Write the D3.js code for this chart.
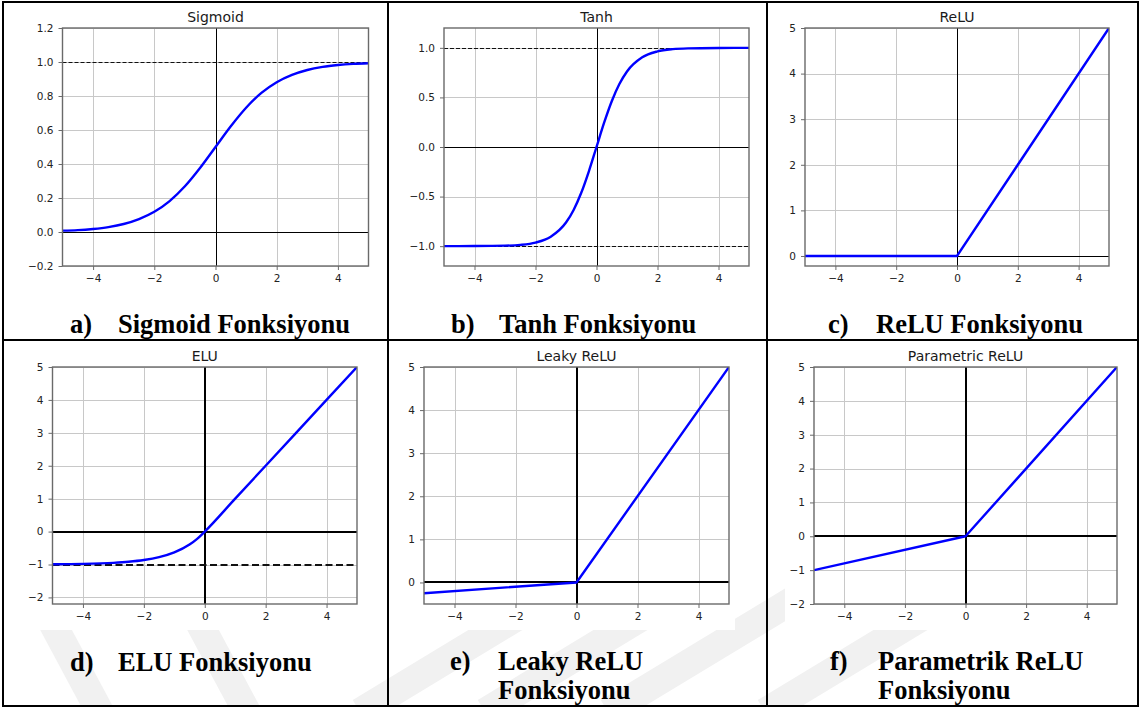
<!DOCTYPE html>
<html>
<head>
<meta charset="utf-8">
<script src="https://cdn.jsdelivr.net/npm/d3@7"></script>
<style>
  body { margin: 0; background: #fff; }
  svg { display: block; }
</style>
</head>
<body>
<svg id="fig" width="1141" height="708"></svg>
<script>
// values
const xTicks = [-4, -2, 0, 2, 4];

const sigmoidX = [-5, -4.5, -4, -3.5, -3, -2.5, -2, -1.5, -1, -0.5, 0, 0.5, 1, 1.5, 2, 2.5, 3, 3.5, 4, 4.5, 5];
const sigmoidY = [0.008, 0.011, 0.018, 0.029, 0.047, 0.076, 0.119, 0.182, 0.269, 0.378, 0.5, 0.622, 0.731, 0.818, 0.881, 0.924, 0.953, 0.971, 0.982, 0.989, 0.993];
const sigmoidTicks = [-0.2, 0, 0.2, 0.4, 0.6, 0.8, 1.0, 1.2];
const sigmoidDashed = [1];

const tanhX = [-5, -4, -3, -2.5, -2, -1.5, -1, -0.75, -0.5, -0.25, 0, 0.25, 0.5, 0.75, 1, 1.5, 2, 2.5, 3, 4, 5];
const tanhY = [-1, -0.999, -0.995, -0.987, -0.964, -0.905, -0.762, -0.635, -0.462, -0.245, 0, 0.245, 0.462, 0.635, 0.762, 0.905, 0.964, 0.987, 0.995, 0.999, 1];
const tanhTicks = [-1, -0.5, 0, 0.5, 1];
const tanhDashed = [-1, 1];

const reluX = [-5, 0, 5];
const reluY = [0, 0, 5];
const reluTicks = [0, 1, 2, 3, 4, 5];

const eluX = [-5, -4, -3, -2.5, -2, -1.5, -1, -0.5, -0.25, 0, 1, 2, 3, 4, 5];
const eluY = [-0.993, -0.982, -0.95, -0.918, -0.865, -0.777, -0.632, -0.393, -0.221, 0, 1, 2, 3, 4, 5];
const eluTicks = [-2, -1, 0, 1, 2, 3, 4, 5];
const eluDashed = [-1];

const leakyX = [-5, 0, 5];
const leakyY = [-0.25, 0, 5];
const leakyTicks = [0, 1, 2, 3, 4, 5];

const preluX = [-5, 0, 5];
const preluY = [-1, 0, 5];
const preluTicks = [-2, -1, 0, 1, 2, 3, 4, 5];

const titles = ["Sigmoid", "Tanh", "ReLU", "ELU", "Leaky ReLU", "Parametric ReLU"];
const letters = ["a)", "b)", "c)", "d)", "e)", "f)"];
const captions = [
  ["Sigmoid Fonksiyonu"], ["Tanh Fonksiyonu"], ["ReLU Fonksiyonu"],
  ["ELU Fonksiyonu"], ["Leaky ReLU", "Fonksiyonu"], ["Parametrik ReLU", "Fonksiyonu"]
];

// panel layout (pixel boxes of each little plot + caption spot)
const panels = [
  {xs: sigmoidX, ys: sigmoidY, ticks: sigmoidTicks, dashed: sigmoidDashed, yDomain: [-0.2, 1.2], fmt: ".1f",
   left: 62.5, right: 368.5, top: 28, bottom: 266, thick: false, smooth: true, capX: 70, capY: 333},
  {xs: tanhX, ys: tanhY, ticks: tanhTicks, dashed: tanhDashed, yDomain: [-1.2, 1.2], fmt: ".1f",
   left: 444, right: 749, top: 28, bottom: 266, thick: false, smooth: true, capX: 451, capY: 333},
  {xs: reluX, ys: reluY, ticks: reluTicks, dashed: [], yDomain: [-0.22, 5], fmt: "d",
   left: 805, right: 1109, top: 28, bottom: 266, thick: false, smooth: false, capX: 828, capY: 333},
  {xs: eluX, ys: eluY, ticks: eluTicks, dashed: eluDashed, yDomain: [-2.2, 5], fmt: "d",
   left: 52.5, right: 357, top: 367, bottom: 604, thick: true, smooth: true, capX: 70, capY: 671},
  {xs: leakyX, ys: leakyY, ticks: leakyTicks, dashed: [], yDomain: [-0.5, 5], fmt: "d",
   left: 424, right: 729, top: 367, bottom: 604, thick: true, smooth: false, capX: 450, capY: 670},
  {xs: preluX, ys: preluY, ticks: preluTicks, dashed: [], yDomain: [-2, 5], fmt: "d",
   left: 814, right: 1117, top: 367, bottom: 604, thick: true, smooth: false, capX: 830, capY: 670}
];

const px = v => Math.round(v) + 0.5; // crisp 1px lines

const svg = d3.select("#fig");
svg.append("rect").attr("width", 1141).attr("height", 708).attr("fill", "#fff");

// faint watermark stripes in the lower caption cells
const defs = svg.append("defs");
defs.append("clipPath").attr("id", "wm")
  .append("rect").attr("x", 4).attr("y", 342).attr("width", 1133).attr("height", 363);
const wm = svg.append("g").attr("clip-path", "url(#wm)")
  .attr("stroke", "#f1f1f1").attr("stroke-width", 28).attr("fill", "none");
[[40, 600, 100, 712], [187, 600, 247, 712]].forEach(s =>
  wm.append("line").attr("x1", s[0]).attr("y1", s[1]).attr("x2", s[2]).attr("y2", s[3]));
[[360, 712, 545, 600], [485, 712, 670, 600], [608, 712, 793, 600], [765, 712, 950, 600]].forEach(s =>
  wm.append("line").attr("x1", s[0]).attr("y1", s[1]).attr("x2", s[2]).attr("y2", s[3]));
// white backgrounds of the pasted plot images
[[22, 342, 366, 288], [390, 342, 345, 288], [785, 342, 352, 288]].forEach(r =>
  svg.append("rect").attr("x", r[0]).attr("y", r[1]).attr("width", r[2]).attr("height", r[3]).attr("fill", "#fff"));

panels.forEach((p, i) => {
  const x = d3.scaleLinear().domain([-5, 5]).range([p.left, p.right]);
  const y = d3.scaleLinear().domain(p.yDomain).range([p.bottom, p.top]);
  const g = svg.append("g");

  defs.append("clipPath").attr("id", "clip" + i)
    .append("rect").attr("x", p.left).attr("y", p.top)
    .attr("width", p.right - p.left).attr("height", p.bottom - p.top);

  // grid
  g.selectAll(".gx").data(xTicks).enter().append("line")
    .attr("x1", d => px(x(d))).attr("x2", d => px(x(d))).attr("y1", p.top).attr("y2", p.bottom)
    .attr("stroke", "#c8c8c8").attr("stroke-width", 1);
  g.selectAll(".gy").data(p.ticks).enter().append("line")
    .attr("x1", p.left).attr("x2", p.right).attr("y1", d => px(y(d))).attr("y2", d => px(y(d)))
    .attr("stroke", "#c8c8c8").attr("stroke-width", 1);

  const inner = g.append("g").attr("clip-path", "url(#clip" + i + ")");
  const lw = p.thick ? 2 : 1;
  const pos = v => p.thick ? Math.round(v) : px(v);

  // axis lines through the origin
  inner.append("line").attr("x1", p.left).attr("x2", p.right).attr("y1", pos(y(0))).attr("y2", pos(y(0)))
    .attr("stroke", "#000").attr("stroke-width", lw);
  inner.append("line").attr("x1", pos(x(0))).attr("x2", pos(x(0))).attr("y1", p.top).attr("y2", p.bottom)
    .attr("stroke", "#000").attr("stroke-width", lw);

  // dashed asymptotes
  inner.selectAll(".dash").data(p.dashed).enter().append("line")
    .attr("x1", p.left).attr("x2", p.right).attr("y1", d => pos(y(d))).attr("y2", d => pos(y(d)))
    .attr("stroke", "#111").attr("stroke-width", lw)
    .attr("stroke-dasharray", p.thick ? "7,3.5" : "4,2");

  // the curve
  const pts = p.xs.map((v, k) => [v, p.ys[k]]);
  const line = d3.line().x(d => x(d[0])).y(d => y(d[1]))
    .curve(p.smooth ? d3.curveMonotoneX : d3.curveLinear);
  inner.append("path").datum(pts).attr("d", line)
    .attr("fill", "none").attr("stroke", "#0000ff").attr("stroke-width", 2.4)
    .attr("stroke-linejoin", "round");

  // spines
  g.append("rect").attr("x", p.left).attr("y", p.top)
    .attr("width", p.right - p.left).attr("height", p.bottom - p.top)
    .attr("fill", "none").attr("stroke", "#6a6a6a").attr("stroke-width", 1.4);

  // axes with tick labels
  const xa = g.append("g").attr("transform", `translate(0,${p.bottom})`)
    .call(d3.axisBottom(x).tickValues(xTicks).tickFormat(d3.format("d")).tickSize(4).tickPadding(5));
  const ya = g.append("g").attr("transform", `translate(${p.left},0)`)
    .call(d3.axisLeft(y).tickValues(p.ticks).tickFormat(d3.format(p.fmt)).tickSize(4).tickPadding(5));
  [xa, ya].forEach(a => {
    a.select(".domain").remove();
    a.selectAll(".tick line").attr("stroke", "#6a6a6a").attr("stroke-width", 1);
    a.selectAll(".tick text").attr("fill", "#222")
      .style("font-family", "'DejaVu Sans', sans-serif").style("font-size", "10.5px");
  });

  // plot title
  g.append("text").attr("x", (p.left + p.right) / 2).attr("y", p.top - 6)
    .attr("text-anchor", "middle").attr("fill", "#1a1a1a")
    .style("font-family", "'DejaVu Sans', sans-serif").style("font-size", "14px")
    .text(titles[i]);

  // caption below
  const cap = g.append("g")
    .style("font-family", "'Liberation Serif', 'Times New Roman', serif")
    .style("font-weight", "bold").style("font-size", "26.5px").attr("fill", "#000");
  cap.append("text").attr("x", p.capX).attr("y", p.capY).text(letters[i]);
  captions[i].forEach((t, k) =>
    cap.append("text").attr("x", p.capX + 48).attr("y", p.capY + k * 29).text(t));
});

// table borders
const bw = svg.append("g").attr("stroke", "#000").attr("stroke-width", 2);
[3, 388, 767, 1138].forEach(v =>
  bw.append("line").attr("x1", v).attr("x2", v).attr("y1", 1).attr("y2", 707));
[2, 340, 706].forEach(v =>
  bw.append("line").attr("x1", 2).attr("x2", 1139).attr("y1", v).attr("y2", v));
</script>
</body>
</html>
